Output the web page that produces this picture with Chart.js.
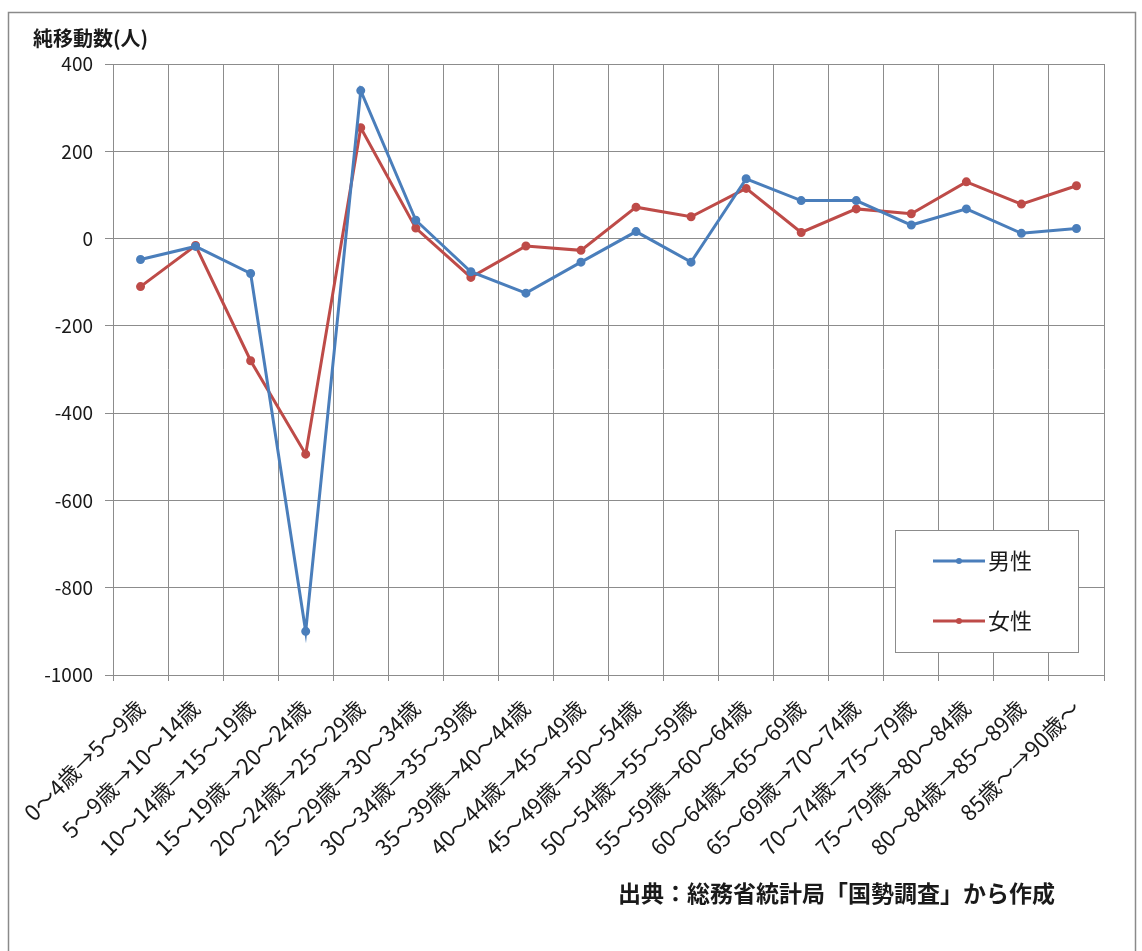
<!DOCTYPE html>
<html>
<head>
<meta charset="utf-8">
<script src="https://cdn.jsdelivr.net/npm/chart.js@4/dist/chart.umd.min.js"></script>
<style>
  html, body { margin: 0; padding: 0; background: #fff; }
  canvas { display: block; }
</style>
</head>
<body>
<canvas id="migrationChart" width="1142" height="951"></canvas>
<script>
// 年齢階級（5年前→現在）
const ageGroups = [
  "0～4歳→5～9歳", "5～9歳→10～14歳", "10～14歳→15～19歳", "15～19歳→20～24歳",
  "20～24歳→25～29歳", "25～29歳→30～34歳", "30～34歳→35～39歳", "35～39歳→40～44歳",
  "40～44歳→45～49歳", "45～49歳→50～54歳", "50～54歳→55～59歳", "55～59歳→60～64歳",
  "60～64歳→65～69歳", "65～69歳→70～74歳", "70～74歳→75～79歳", "75～79歳→80～84歳",
  "80～84歳→85～89歳", "85歳～→90歳～"
];

// 純移動数（人）
const maleNet = [-48, -18, -80, -900, 339, 42, -76, -125, -54, 16, -54, 137, 87, 87, 31, 68, 12, 23];
const femaleNet = [-110, -16, -280, -494, 254, 24, -89, -17, -27, 72, 50, 115, 14, 68, 57, 130, 79, 121];

const seriesNames = ["男性", "女性"];
const yMin = -1000;
const yMax = 400;
const yStep = 200;

const yTitle = "純移動数(人)";
const sourceNote = "出典：総務省統計局「国勢調査」から作成";

const FONT = '"Noto Sans CJK JP", "Noto Sans", sans-serif';
const GRID = "#8c8c8c";

// 枠・タイトル・凡例・出典を描く
const decorPlugin = {
  id: "decor",
  beforeDraw(chart) {
    const ctx = chart.ctx;
    ctx.save();
    ctx.fillStyle = "#fff";
    ctx.fillRect(0, 0, chart.width, chart.height);
    ctx.restore();
  },
  afterDraw(chart) {
    const ctx = chart.ctx;
    ctx.save();
    // 外枠
    ctx.strokeStyle = "#8a8a8a";
    ctx.lineWidth = 1.5;
    ctx.strokeRect(8.5, 12.5, 1127, 960);

    // 軸タイトル
    ctx.fillStyle = "#1a1a1a";
    ctx.textBaseline = "middle";
    ctx.textAlign = "left";
    ctx.font = "bold 20px " + FONT;
    ctx.fillText(yTitle, 33, 38);

    // 出典
    ctx.font = "bold 23px " + FONT;
    ctx.fillText(sourceNote, 618, 893);

    // 凡例
    const bx = 895.5, by = 530.5, bw = 183, bh = 122;
    ctx.fillStyle = "#fff";
    ctx.fillRect(bx, by, bw, bh);
    ctx.strokeStyle = GRID;
    ctx.lineWidth = 1;
    ctx.strokeRect(bx, by, bw, bh);
    chart.data.datasets.forEach((ds, i) => {
      const y = 561 + i * 60;
      ctx.strokeStyle = ds.borderColor;
      ctx.lineWidth = 3;
      ctx.beginPath();
      ctx.moveTo(933, y);
      ctx.lineTo(985, y);
      ctx.stroke();
      ctx.fillStyle = ds.borderColor;
      ctx.beginPath();
      ctx.arc(959, y, 3, 0, Math.PI * 2);
      ctx.fill();
      ctx.fillStyle = "#1a1a1a";
      ctx.font = "22px " + FONT;
      ctx.textBaseline = "middle";
      ctx.fillText(ds.label, 988, y);
    });
    ctx.restore();
  }
};

new Chart(document.getElementById("migrationChart"), {
  type: "line",
  data: {
    labels: ageGroups,
    datasets: [
      {
        label: seriesNames[0],
        data: maleNet,
        borderColor: "#4a7ebb",
        backgroundColor: "#4a7ebb",
        borderWidth: 3,
        pointRadius: 3,
        pointHoverRadius: 3,
        tension: 0
      },
      {
        label: seriesNames[1],
        data: femaleNet,
        borderColor: "#be4b48",
        backgroundColor: "#be4b48",
        borderWidth: 3,
        pointRadius: 3,
        pointHoverRadius: 3,
        tension: 0
      }
    ]
  },
  options: {
    responsive: false,
    animation: false,
    layout: { padding: { left: 33, top: 64, right: 38, bottom: 0 } },
    plugins: {
      legend: { display: false },
      tooltip: { enabled: false }
    },
    scales: {
      x: {
        type: "category",
        offset: true,
        grid: { offset: true, color: GRID, tickLength: 6 },
        border: { color: GRID },
        ticks: {
          autoSkip: false,
          minRotation: 45,
          maxRotation: 45,
          padding: 14,
          color: "#1a1a1a",
          font: { family: FONT, size: 22 }
        },
        afterFit(scale) { scale.height = 276; }
      },
      y: {
        min: yMin,
        max: yMax,
        grid: { color: GRID, tickLength: 8 },
        border: { color: GRID },
        ticks: {
          stepSize: yStep,
          padding: 12,
          color: "#1a1a1a",
          font: { family: FONT, size: 19 },
          callback: (v) => String(v)
        },
        afterFit(scale) { scale.width = 80; }
      }
    }
  },
  plugins: [decorPlugin]
});
</script>
</body>
</html>
